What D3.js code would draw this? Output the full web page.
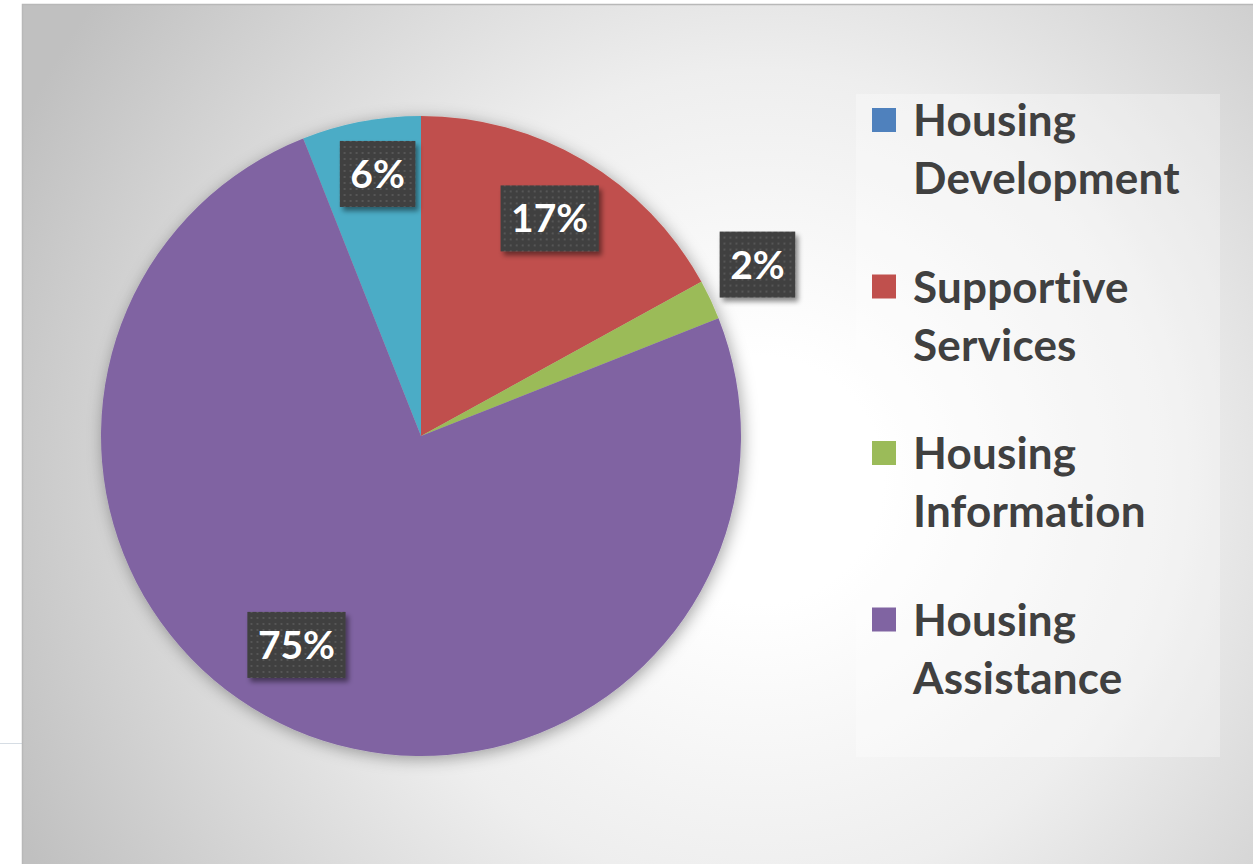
<!DOCTYPE html>
<html>
<head>
<meta charset="utf-8">
<script src="https://cdn.jsdelivr.net/npm/d3@7"></script>
<style>
  html, body { margin: 0; padding: 0; background: #fff; }
  svg { display: block; }
  text { font-variant-ligatures: none; font-feature-settings: "liga" 0, "clig" 0, "dlig" 0, "calt" 0; letter-spacing: 0.2px; }
</style>
</head>
<body>
<svg id="chart" width="1253" height="864"></svg>
<script>
// data
var categories = ["Housing Development", "Supportive Services", "Housing Information", "Housing Assistance"];
var shares = [6, 17, 2, 75];
var labels = ["6%", "17%", "2%", "75%"];
var legendLines = [["Housing", "Development"], ["Supportive", "Services"], ["Housing", "Information"], ["Housing", "Assistance"]];

// styles
var sliceColors = ["#4BACC6", "#C0504D", "#9BBB59", "#8064A2"];
var legendColors = ["#4F81BD", "#C0504D", "#9BBB59", "#8064A2"];
// label placement: radius factor and angle nudge (deg)
var labelPlace = [{r: 0.83, da: 1.4}, {r: 0.79, da: 0}, {r: 1.18, da: -1.8}, {r: 0.76, da: 7.4}];

var W = 1253, H = 864,
    cx = 421, cy = 436, R = 320;

var svg = d3.select("#chart");
var defs = svg.append("defs");

// background gradient
var bg = defs.append("radialGradient").attr("id", "bg")
    .attr("gradientUnits", "userSpaceOnUse")
    .attr("cx", 760).attr("cy", 480).attr("r", 820);
bg.append("stop").attr("offset", 0).attr("stop-color", "#ffffff");
bg.append("stop").attr("offset", 0.15).attr("stop-color", "#ffffff");
bg.append("stop").attr("offset", 0.5).attr("stop-color", "#eeeeee");
bg.append("stop").attr("offset", 1).attr("stop-color", "#c0c0c0");

// pie shadow
var ps = defs.append("filter").attr("id", "pieShadow")
    .attr("x", "-20%").attr("y", "-20%").attr("width", "140%").attr("height", "140%");
ps.append("feDropShadow").attr("dx", 2).attr("dy", 3).attr("stdDeviation", 8)
    .attr("flood-color", "#000").attr("flood-opacity", 0.35);

// label shadow
var ls = defs.append("filter").attr("id", "lblShadow")
    .attr("x", "-20%").attr("y", "-20%").attr("width", "150%").attr("height", "150%");
ls.append("feDropShadow").attr("dx", 3).attr("dy", 4).attr("stdDeviation", 2.5)
    .attr("flood-color", "#000").attr("flood-opacity", 0.45);

// dotted texture for labels
var pat = defs.append("pattern").attr("id", "dots")
    .attr("patternUnits", "userSpaceOnUse").attr("width", 6).attr("height", 6);
pat.append("rect").attr("width", 6).attr("height", 6).attr("fill", "#3f3f3f");
pat.append("rect").attr("x", 2).attr("y", 2).attr("width", 2).attr("height", 2).attr("fill", "#575757");

// faint stray line left of chart
svg.append("line").attr("x1", 0).attr("x2", 22).attr("y1", 743.5).attr("y2", 743.5)
    .attr("stroke", "#d6dde4").attr("stroke-width", 1);

// chart area
svg.append("rect")
    .attr("x", 22.5).attr("y", 4.5).attr("width", W).attr("height", H)
    .attr("fill", "url(#bg)").attr("stroke", "#b8b8b8").attr("stroke-width", 1.5);

// pie
var start = -shares[0] / d3.sum(shares) * 2 * Math.PI;
var pie = d3.pie().sort(null).value(function(d) { return d; })
    .startAngle(start).endAngle(start + 2 * Math.PI);
var arcs = pie(shares);
var arc = d3.arc().innerRadius(0).outerRadius(R);

var g = svg.append("g").attr("transform", "translate(" + cx + "," + cy + ")");
g.append("g").attr("filter", "url(#pieShadow)")
  .selectAll("path").data(arcs).enter().append("path")
    .attr("d", arc)
    .attr("fill", function(d, i) { return sliceColors[i]; });

// data labels
var lblFont = 39;
var lbl = g.selectAll(".lbl").data(arcs).enter().append("g").attr("class", "lbl")
    .attr("transform", function(d, i) {
        var p = labelPlace[i];
        var a = (d.startAngle + d.endAngle) / 2 + p.da * Math.PI / 180;
        var r = R * p.r;
        return "translate(" + (r * Math.sin(a)) + "," + (-r * Math.cos(a)) + ")";
    });
lbl.each(function(d, i) {
    var s = d3.select(this);
    var box = s.append("rect").attr("filter", "url(#lblShadow)").attr("fill", "url(#dots)");
    var t = s.append("text")
        .attr("text-anchor", "middle")
        .attr("y", lblFont * 0.36)
        .attr("fill", "#ffffff")
        .style("font-family", "Lato, 'Open Sans', sans-serif")
        .style("font-weight", "bold")
        .style("font-size", lblFont + "px")
        .style("letter-spacing", "0px")
        .text(labels[i]);
    var w = t.node().getComputedTextLength() + 21, h = 66;
    box.attr("x", -w / 2).attr("y", -h / 2).attr("width", w).attr("height", h);
});

// legend
var lg = svg.append("g");
lg.append("rect").attr("x", 856).attr("y", 94).attr("width", 364).attr("height", 663)
    .attr("fill", "#ffffff").attr("fill-opacity", 0.3);

var item = lg.selectAll(".item").data(categories).enter().append("g").attr("class", "item")
    .attr("transform", function(d, i) { return "translate(872," + (136 + i * 166.5) + ")"; });
item.append("rect").attr("x", 0).attr("y", -28).attr("width", 24).attr("height", 24)
    .attr("fill", function(d, i) { return legendColors[i]; });
item.each(function(d, i) {
    var t = d3.select(this).append("text")
        .attr("x", 41)
        .attr("fill", "#404040")
        .style("font-family", "Lato, 'Open Sans', sans-serif")
        .style("font-weight", "bold")
        .style("font-size", "44px");
    legendLines[i].forEach(function(line, j) {
        t.append("tspan").attr("x", 41).attr("y", j * 58).text(line);
    });
});
</script>
</body>
</html>
